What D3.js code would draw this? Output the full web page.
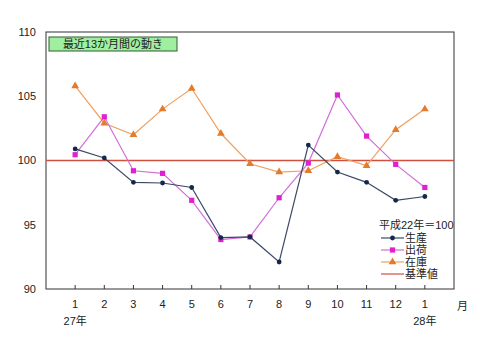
<!DOCTYPE html>
<html>
<head>
<meta charset="utf-8">
<script src="https://cdn.jsdelivr.net/npm/d3@7"></script>
<style>
  body { margin: 0; background: #fff; }
  text { font-family: "Liberation Sans", "Noto Sans CJK JP", sans-serif; }
</style>
</head>
<body>
<svg id="chart"></svg>
<script>
const months = ["1", "2", "3", "4", "5", "6", "7", "8", "9", "10", "11", "12", "1"];
const yearLabels = [{i: 0, text: "27年"}, {i: 12, text: "28年"}];
const production = [100.9, 100.2, 98.3, 98.25, 97.9, 94.0, 94.05, 92.1, 101.2, 99.1, 98.3, 96.9, 97.2];
const shipments = [100.45, 103.4, 99.2, 99.0, 96.9, 93.85, 94.05, 97.1, 99.8, 105.1, 101.9, 99.7, 97.9];
const inventory = [105.8, 102.9, 102.0, 104.0, 105.6, 102.1, 99.75, 99.1, 99.2, 100.3, 99.6, 102.4, 104.0];
const yTicks = [90, 95, 100, 105, 110];
const baseValue = 100;

const W = 480, H = 351;
const margin = {top: 32, right: 26, bottom: 62, left: 46};
const width = W - margin.left - margin.right,
      height = H - margin.top - margin.bottom;

const svg = d3.select("#chart").attr("width", W).attr("height", H);
const g = svg.append("g").attr("transform", `translate(${margin.left},${margin.top})`);

const x = d3.scaleLinear().domain([0, 14]).range([0, width]);
const y = d3.scaleLinear().domain([90, 110]).range([height, 0]);

// frame
g.append("rect")
    .attr("width", width).attr("height", height)
    .attr("fill", "none").attr("stroke", "#333").attr("stroke-width", 1);

// y labels
g.selectAll(".ylab")
    .data(yTicks)
    .enter().append("text")
        .attr("x", -10)
        .attr("y", d => y(d))
        .attr("dy", "0.35em")
        .attr("text-anchor", "end")
        .style("font-size", "11px")
        .attr("fill", "#222")
        .text(d => d);

// x ticks (inward) and labels
g.selectAll(".xtick")
    .data(months)
    .enter().append("line")
        .attr("x1", (d, i) => x(i + 1)).attr("x2", (d, i) => x(i + 1))
        .attr("y1", height).attr("y2", height - 4)
        .attr("stroke", "#333");

g.selectAll(".xlab")
    .data(months)
    .enter().append("text")
        .attr("x", (d, i) => x(i + 1))
        .attr("y", height + 19)
        .attr("text-anchor", "middle")
        .style("font-size", "11px")
        .attr("fill", "#222")
        .text(d => d);

g.selectAll(".yearlab")
    .data(yearLabels)
    .enter().append("text")
        .attr("x", d => x(d.i + 1))
        .attr("y", height + 36)
        .attr("text-anchor", "middle")
        .style("font-size", "11px")
        .attr("fill", "#222")
        .text(d => d.text);

g.append("text")
    .attr("x", width + 3)
    .attr("y", height + 21)
    .style("font-size", "11px")
    .attr("fill", "#222")
    .text("月");

// base line
g.append("line")
    .attr("x1", 0).attr("x2", width)
    .attr("y1", y(baseValue)).attr("y2", y(baseValue))
    .attr("stroke", "#d05040").attr("stroke-width", 1.3);

const line = d3.line().x((d, i) => x(i + 1)).y(d => y(d));

const series = [
    {name: "生産", values: production, line: "#3a4a66", mark: "#14284a", shape: "circle"},
    {name: "出荷", values: shipments, line: "#d070d8", mark: "#e020d0", shape: "square"},
    {name: "在庫", values: inventory, line: "#f0a060", mark: "#e57a2a", shape: "triangle"}
];

function drawMarker(sel, shape, color) {
    if (shape === "circle") {
        sel.append("circle").attr("r", 2.4).attr("fill", color);
    } else if (shape === "square") {
        sel.append("rect").attr("x", -2.6).attr("y", -2.6).attr("width", 5.2).attr("height", 5.2).attr("fill", color);
    } else {
        sel.append("path").attr("d", d3.symbol(d3.symbolTriangle, 26)()).attr("fill", color);
    }
}

// draw inventory first, then shipments, then production on top
series.slice().reverse().forEach(s => {
    g.append("path")
        .datum(s.values)
        .attr("fill", "none")
        .attr("stroke", s.line)
        .attr("stroke-width", 1.2)
        .attr("d", line);
    s.values.forEach((v, i) => {
        const m = g.append("g").attr("transform", `translate(${x(i + 1)},${y(v)})`);
        drawMarker(m, s.shape, s.mark);
    });
});

// title box
const tb = svg.append("g").attr("transform", "translate(49,37)");
tb.append("rect")
    .attr("width", 128).attr("height", 14)
    .attr("fill", "#a0eea0").attr("stroke", "#2f5f2f").attr("stroke-width", 1);
tb.append("text")
    .attr("x", 64).attr("y", 11)
    .attr("text-anchor", "middle")
    .style("font-size", "11px")
    .attr("fill", "#222")
    .text("最近13か月間の動き");

// legend
const lg = svg.append("g").attr("transform", "translate(379,225)");
lg.append("text")
    .attr("x", 0).attr("y", 4)
    .style("font-size", "11px")
    .attr("fill", "#222")
    .text("平成22年＝100");
const legendItems = series.concat([{name: "基準値", line: "#d05040", shape: null}]);
legendItems.forEach((s, i) => {
    const row = lg.append("g").attr("transform", `translate(0,${13 + i * 12})`);
    row.append("line").attr("x1", 2).attr("x2", 25).attr("y1", 0).attr("y2", 0)
        .attr("stroke", s.line).attr("stroke-width", 1.2);
    if (s.shape) {
        const m = row.append("g").attr("transform", "translate(13.5,0)");
        drawMarker(m, s.shape, s.mark);
    }
    row.append("text")
        .attr("x", 26).attr("y", 0).attr("dy", "0.35em")
        .style("font-size", "11px")
        .attr("fill", "#222")
        .text(s.name);
});
</script>
</body>
</html>
